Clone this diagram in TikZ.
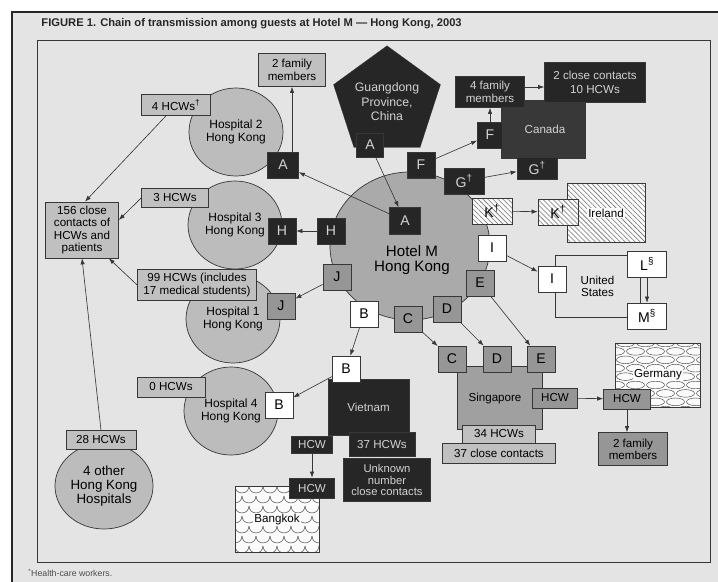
\documentclass[tikz,border=0pt]{standalone}
\usepackage{fontspec}
\setmainfont{Liberation Sans}
\usetikzlibrary{shapes,arrows.meta,calc,patterns.meta}

\definecolor{paper}{RGB}{228,228,228}
\definecolor{light}{RGB}{192,192,192}
\definecolor{circ}{RGB}{188,188,188}
\definecolor{hotelc}{RGB}{170,170,170}
\definecolor{mid}{RGB}{150,150,150}
\definecolor{sing}{RGB}{160,160,160}
\definecolor{dark}{RGB}{38,38,38}
\definecolor{canadac}{RGB}{56,56,56}
\definecolor{pale}{RGB}{210,210,210}
\definecolor{ink}{RGB}{55,55,55}

\begin{document}
\begin{tikzpicture}[x=0.5mm,y=-0.5mm,
    conn/.style={draw=ink,line width=0.9pt,-{Latex[length=3mm,width=2.2mm]}},
    box/.style={draw=ink,line width=1pt,inner sep=1pt,align=center,
        font=\fontsize{16.5}{17.5}\selectfont},
    sq/.style={box,minimum width=14mm,minimum height=13mm,
        font=\fontsize{20}{20}\selectfont},
    widesq/.style={minimum width=20mm},
    dk/.style={fill=dark,text=pale},
    md/.style={fill=mid},
    lt/.style={fill=light},
    wt/.style={fill=white},
    hatch/.style={preaction={fill=white!85!paper},
        pattern={Lines[angle=-45,distance=5pt,line width=0.8pt]},pattern color=black!55},
    hosp/.style={ellipse,draw=ink,line width=1pt,fill=circ,
        minimum width=47mm,minimum height=44mm,inner sep=0,align=center,
        font=\fontsize{17}{19}\selectfont},
    tag/.style={fill=white!85!paper,inner sep=1.5pt,font=\fontsize{16.5}{17}\selectfont}
]
    \useasboundingbox (0,0) rectangle (718,581);
    \clip (0,0) rectangle (718,581);

    % paper, frames and captions
    \fill[white] (0,0) rectangle (718,581);
    \draw[line width=3pt,draw=black!85,fill=paper] (12,12) rectangle (760,620);
    \draw[ink,line width=0.8pt] (37,40) rectangle (710,562);
    \node[anchor=west,font=\bfseries\fontsize{15.9}{16}\selectfont,text=black!85] (title) at (39,24)
        {FIGURE 1. Chain of transmission among guests at Hotel M --- Hong Kong, 2003};
    \node[anchor=west,font=\fontsize{12.5}{12.5}\selectfont,text=black!70] (note) at (26,573)
        {\textsuperscript{*}Health-care workers.};

    % Hong Kong hospitals
    \node[hosp] (hosp2) at (236,132) {Hospital 2\\Hong Kong};
    \node[hosp] (hosp3) at (235,225) {Hospital 3\\Hong Kong};
    \node[hosp] (hosp1) at (233,319) {Hospital 1\\Hong Kong};
    \node[hosp] (hosp4) at (231,411) {Hospital 4\\Hong Kong};
    \node[hosp,minimum width=49mm,minimum height=43mm,font=\fontsize{19}{20}\selectfont] (other4) at (104,486)
        {4 other\\Hong Kong\\Hospitals};

    % Hotel M and Guangdong
    \node[ellipse,draw=ink,line width=1pt,fill=hotelc,minimum width=80mm,minimum height=74mm] (hotel) at (410,246) {};
    \node[font=\fontsize{21.5}{22}\selectfont,align=center] (hotelname) at (412,260) {Hotel M\\Hong Kong};
    \node[regular polygon,regular polygon sides=5,minimum size=52mm,inner sep=0,fill=dark,draw=ink,
        text=pale,align=center,font=\fontsize{17.5}{20.5}\selectfont] (guangdong) at (387,102)
        {Guangdong\\Province,\\China};

    % case counts in Hong Kong
    \node[box,lt,minimum width=33.5mm,minimum height=16.5mm] (fam2) at (292,70) {2 family\\members};
    \node[box,lt,minimum width=34.5mm,minimum height=10.5mm] (hcw4) at (176,105) {4 HCWs\textsuperscript{†}};
    \node[box,lt,minimum width=33.5mm,minimum height=9.5mm] (hcw3) at (175,198) {3 HCWs};
    \node[box,lt,minimum width=36.5mm,minimum height=28mm] (close156) at (82,230)
        {156 close\\contacts of\\HCWs and\\patients};
    \node[box,lt,minimum width=59.5mm,minimum height=15.5mm] (hcw99) at (197,285)
        {99 HCWs (includes\\17 medical students)};
    \node[box,lt,minimum width=34mm,minimum height=10mm] (hcw0) at (171,387) {0 HCWs};
    \node[box,lt,minimum width=35mm,minimum height=9.5mm] (hcw28) at (101,440) {28 HCWs};

    % guests at Hotel M
    \node[sq,dk,minimum width=15.5mm,minimum height=13.5mm] (hA) at (405,221) {A};
    \node[sq,dk] (hH) at (331,231) {H};
    \node[sq,md] (hJ) at (337,277) {J};
    \node[sq,wt] (hB) at (364,314) {B};
    \node[sq,md] (hC) at (408,319) {C};
    \node[sq,md] (hD) at (447,309) {D};
    \node[sq,md] (hE) at (480,283) {E};
    \node[sq,wt] (hI) at (492,248) {I};
    \node[sq,widesq,hatch] (hK) at (492,211) {K\textsuperscript{†}};
    \node[sq,widesq,dk] (hG) at (464,181) {G\textsuperscript{†}};
    \node[sq,dk] (hF) at (421,165) {F};

    % guests elsewhere in Hong Kong
    \node[sq,dk,minimum width=13.5mm,minimum height=12mm] (gA) at (370,145) {A};
    \node[sq,dk,minimum width=15.5mm] (h2A) at (283,165) {A};
    \node[sq,dk] (h3H) at (282,231) {H};
    \node[sq,md] (h1J) at (281,306) {J};
    \node[sq,wt] (h4B) at (279,405) {B};

    % Canada
    \node[box,fill=canadac,text=pale,minimum width=42mm,minimum height=29mm] (canada) at (543,129) {\hspace*{2mm}Canada};
    \node[box,dk,minimum width=50.5mm,minimum height=20mm] (close2) at (595,82) {2 close contacts\\[2pt]10 HCWs};
    \node[box,dk,minimum width=34.5mm,minimum height=15.5mm] (fam4) at (490,92) {4 family\\members};
    \node[sq,dk,minimum width=12.5mm] (cF) at (490,135) {F};
    \node[sq,widesq,dk,minimum height=11mm] (cG) at (537,168) {G\textsuperscript{†}};

    % Ireland
    \node[box,hatch,minimum width=39mm,minimum height=29.5mm] (ireland) at (606,213) {};
    \node[tag] (irelandname) at (606,213) {Ireland};
    \node[sq,widesq,hatch] (iK) at (558,212) {K\textsuperscript{†}};

    % United States
    \node[box,minimum width=42.5mm,minimum height=31mm] (usa) at (597.5,286) {United\\States};
    \node[sq,wt] (uI) at (552,279) {I};
    \node[sq,wt,minimum width=19.5mm] (uL) at (647,264) {L\textsuperscript{§}};
    \node[sq,wt,minimum width=19.5mm] (uM) at (647,316) {M\textsuperscript{§}};

    % Singapore
    \node[box,fill=sing,minimum width=42.5mm,minimum height=31.5mm] (singapore) at (500,398) {Singapore\hspace*{5mm}};
    \node[sq,md] (sC) at (452,359) {C};
    \node[sq,md] (sD) at (497,359) {D};
    \node[sq,md] (sE) at (541,359) {E};
    \node[box,md,minimum width=22.5mm,minimum height=10mm] (sHCW) at (555,398) {HCW};
    \node[box,lt,minimum width=36.5mm,minimum height=9mm] (hcw34) at (499,434) {34 HCWs};
    \node[box,lt,minimum width=56.5mm,minimum height=10mm] (close37) at (499,453) {37 close contacts};

    % Germany
    \node[box,fill=white!85!paper,minimum width=42.5mm,minimum height=32mm,
        path picture={\foreach \i in {0,...,8}{\foreach \j in {-1,...,4}{
            \draw[ink,line width=0.6pt] ([xshift={\j*10mm+mod(\i,2)*5mm+5mm},yshift={-\i*4.2mm}]path picture bounding box.north west)
                ellipse[x radius=4.5mm,y radius=1.9mm];}}}] (germany) at (658,375) {};
    \node[tag] (germanyname) at (658,375) {Germany};
    \node[box,md,minimum width=23.5mm,minimum height=10mm] (gHCW) at (627,399) {HCW};
    \node[box,md,minimum width=34.5mm,minimum height=16.5mm] (famG) at (633,449) {2 family\\members};

    % Vietnam and Bangkok
    \node[box,dk,minimum width=40.5mm,minimum height=28mm] (vietnam) at (368.5,407) {Vietnam};
    \node[sq,wt] (vB) at (346,369) {B};
    \node[box,dk,minimum width=33mm,minimum height=12mm] (hcw37) at (382,444) {37 HCWs};
    \node[box,dk,minimum width=43.5mm,minimum height=21.5mm,font=\fontsize{16}{16.5}\selectfont] (unknown) at (387,480)
        {Unknown\\number\\close contacts};
    \node[box,dk,minimum width=20.5mm,minimum height=8.5mm] (vHCW) at (312,445) {HCW};
    \node[box,fill=white!85!paper,minimum width=42mm,minimum height=33mm,
        path picture={\foreach \i in {0,...,7}{\foreach \j in {-1,...,6}{
            \draw[ink,line width=0.6pt] ([xshift={\j*7mm+mod(\i,2)*3.5mm},yshift={-\i*5mm}]path picture bounding box.north west)
                arc[start angle=180,end angle=360,radius=3.5mm];}}}] (bangkok) at (277,519) {};
    \node[tag] (bangkokname) at (277,519) {Bangkok};
    \node[box,dk,minimum width=22.5mm,minimum height=10mm] (bHCW) at (312,488) {HCW};

    % spread from Hotel M
    \draw[conn] (gA) -- (hA);
    \draw[conn] (hA) -- (h2A);
    \draw[conn] (h2A.north -| fam2) -- (fam2.south);
    \draw[conn] (hH) -- (h3H);
    \draw[conn] (hJ) -- (h1J);
    \draw[conn] (hB) -- (vB);
    \draw[conn] (vB) -- (h4B);
    \foreach \g in {C,D,E}
        \draw[conn] (h\g) -- (s\g);
    \draw[conn] (hI) -- (uI);
    \draw[conn] (hK) -- (iK);
    \draw[conn] (hG) -- (cG);
    \draw[conn] (hF) -- (cF);

    % onward spread
    \draw[conn] (cF) -- (fam4);
    \draw[conn] ([yshift=2.5mm]fam4.east) -- ([yshift=2.5mm]fam4.east -| close2.west);
    \draw[conn] (uL) -- (uM);
    \draw[conn] (sHCW) -- (gHCW);
    \draw[conn] (gHCW) -- (gHCW |- famG.north);
    \draw[conn] (vHCW) -- (bHCW);

    % contacts in Hong Kong
    \draw[conn] ([xshift=-5mm]hcw4.south) -- ([xshift=1.5mm]close156.north);
    \draw[conn] (hcw3.west) -- ([yshift=5mm]close156.east);
    \draw[conn] (hcw99.west) -- ([xshift=-5mm]close156.south east);
    \draw[conn] (hcw28.north) -- (close156.south);
\end{tikzpicture}
\end{document}
